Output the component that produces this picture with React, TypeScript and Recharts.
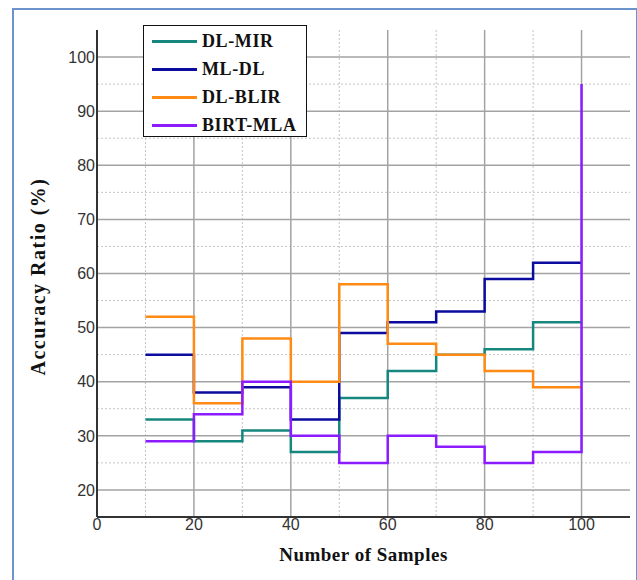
import { CartesianGrid, Line, LineChart, XAxis, YAxis } from "recharts";

const samples = [10, 20, 30, 40, 50, 60, 70, 80, 90, 100];
const dlMir = [33, 29, 31, 27, 37, 42, 45, 46, 51, 51];
const mlDl = [45, 38, 39, 33, 49, 51, 53, 59, 62, 62];
const dlBlir = [52, 36, 48, 40, 58, 47, 45, 42, 39, 39];
const birtMla = [29, 34, 40, 30, 25, 30, 28, 25, 27, 95];

const xTicks = [0, 20, 40, 60, 80, 100];
const yTicks = [20, 30, 40, 50, 60, 70, 80, 90, 100];
const xMinor = [10, 30, 50, 70, 90];
const yMinor = [25, 35, 45, 55, 65, 75, 85, 95];

const series = [
  { key: "dlMir", name: "DL-MIR", color: "#16877f" },
  { key: "mlDl", name: "ML-DL", color: "#0b0b9e" },
  { key: "dlBlir", name: "DL-BLIR", color: "#ff8a14" },
  { key: "birtMla", name: "BIRT-MLA", color: "#8c1cff" },
];

const data = samples.map((s, i) => ({
  samples: s,
  dlMir: dlMir[i],
  mlDl: mlDl[i],
  dlBlir: dlBlir[i],
  birtMla: birtMla[i],
}));

const serif = "'Liberation Serif', 'Times New Roman', serif";
const sans = "'Liberation Sans', Arial, sans-serif";

const LegendBox = () => (
  <div
    style={{
      position: "absolute",
      left: 143,
      top: 25,
      border: "1.5px solid #111",
      background: "#fff",
      width: 164,
      height: 112,
      boxSizing: "border-box",
      paddingTop: 1,
    }}
  >
    {series.map((s) => (
      <div
        key={s.key}
        style={{ display: "flex", alignItems: "center", height: 28 }}
      >
        <div
          style={{
            width: 45,
            height: 3,
            background: s.color,
            marginLeft: 8,
            marginRight: 5,
          }}
        />
        <span
          style={{
            fontFamily: serif,
            fontWeight: "bold",
            fontSize: 18,
            color: "#111",
            letterSpacing: 0.6,
          }}
        >
          {s.name}
        </span>
      </div>
    ))}
  </div>
);

export default function App() {
  return (
    <div
      style={{
        position: "absolute",
        left: 0,
        top: 0,
        width: 637,
        height: 580,
        overflow: "hidden",
        background: "#fff",
      }}
    >
      <div
        style={{
          position: "absolute",
          left: 12,
          top: 8,
          width: 622,
          height: 620,
          border: "2px solid #6b93cc",
        }}
      />
      <div style={{ position: "absolute", left: 0, top: 0 }}>
        <LineChart
          width={637}
          height={580}
          data={data}
          margin={{ top: 30, right: 7, left: 0, bottom: 0 }}
        >
          <CartesianGrid
            stroke="#c4c4c4"
            strokeDasharray="2 2"
            horizontalValues={yMinor}
            verticalValues={xMinor}
            syncWithTicks={false}
          />
          <CartesianGrid
            stroke="#a3a3a3"
            strokeWidth={1.5}
            horizontalValues={yTicks}
            verticalValues={xTicks.filter((t) => t > 0)}
            syncWithTicks={false}
          />
          <XAxis
            dataKey="samples"
            type="number"
            domain={[0, 110]}
            ticks={xTicks}
            height={63}
            tickLine={false}
            tickSize={0}
            tickMargin={2}
            axisLine={{ stroke: "#333", strokeWidth: 2 }}
            tick={{ fill: "#333", fontSize: 16, fontFamily: sans }}
            label={{
              content: ({ viewBox }: any) => (
                <text
                  x={viewBox.x + viewBox.width / 2}
                  y={viewBox.y + 44}
                  textAnchor="middle"
                  fontFamily={serif}
                  fontWeight="bold"
                  fontSize={19}
                  letterSpacing={0.5}
                  fill="#111"
                >
                  Number of Samples
                </text>
              ),
            }}
          />
          <YAxis
            type="number"
            domain={[15, 105]}
            ticks={yTicks}
            width={97}
            tickLine={false}
            tickSize={0}
            tickMargin={2}
            axisLine={{ stroke: "#333", strokeWidth: 2 }}
            tick={{ fill: "#333", fontSize: 16, fontFamily: sans }}
            label={{
              content: ({ viewBox }: any) => {
                const cx = viewBox.x + 38;
                const cy = viewBox.y + viewBox.height / 2 + 3;
                return (
                  <text
                    x={cx}
                    y={cy}
                    transform={`rotate(-90 ${cx} ${cy})`}
                    textAnchor="middle"
                    dominantBaseline="central"
                    fontFamily={serif}
                    fontWeight="bold"
                    fontSize={20}
                    letterSpacing={1.5}
                    fill="#111"
                  >
                    Accuracy Ratio (%)
                  </text>
                );
              },
            }}
          />
          {series.map((s) => (
            <Line
              key={s.key}
              type="stepAfter"
              dataKey={s.key}
              name={s.name}
              stroke={s.color}
              strokeWidth={2.5}
              dot={false}
              isAnimationActive={false}
            />
          ))}
        </LineChart>
      </div>
      <LegendBox />
    </div>
  );
}
